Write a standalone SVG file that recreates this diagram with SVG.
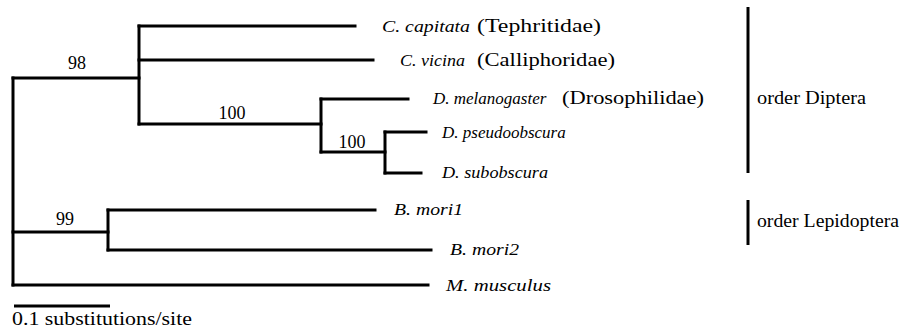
<svg xmlns="http://www.w3.org/2000/svg" width="904" height="333" viewBox="0 0 904 333">
<style>
.br{fill:none;stroke:#000;stroke-width:3;stroke-linecap:square}
.bar{fill:none;stroke:#000;stroke-width:3}
.t{font-family:'Liberation Serif','Times New Roman',serif;font-size:18px;fill:#000}
.i{font-style:italic;font-size:17px}
</style>
<rect width="904" height="333" fill="#fff"/>
<g id="connectors">
<path class="br" d="M13,78 V285"/>
<path class="br" d="M13,78 H139"/>
<path class="br" d="M139,26 V124"/>
<path class="br" d="M139,26 H355"/>
<path class="br" d="M139,60 H373"/>
<path class="br" d="M139,124 H321"/>
<path class="br" d="M321,99 V152"/>
<path class="br" d="M321,99 H408"/>
<path class="br" d="M321,152 H385"/>
<path class="br" d="M385,132 V173"/>
<path class="br" d="M385,132 H426"/>
<path class="br" d="M385,173 H421"/>
<path class="br" d="M13,232 H108"/>
<path class="br" d="M108,210 V250"/>
<path class="br" d="M108,210 H375"/>
<path class="br" d="M108,250 H431"/>
<path class="br" d="M13,285 H428"/>
</g>
<g id="support">
<text class="t" x="77" y="69" text-anchor="middle">98</text>
<text class="t" x="232" y="119" text-anchor="middle">100</text>
<text class="t" x="352" y="148" text-anchor="middle">100</text>
<text class="t" x="65" y="225" text-anchor="middle">99</text>
</g>
<g id="taxon-ccapitata"><text class="t i" x="382" y="32" textLength="88" lengthAdjust="spacingAndGlyphs">C. capitata</text><text class="t" x="477" y="32" textLength="124" lengthAdjust="spacingAndGlyphs">(Tephritidae)</text></g>
<g id="taxon-cvicina"><text class="t i" x="400" y="66" textLength="65" lengthAdjust="spacingAndGlyphs">C. vicina</text><text class="t" x="477" y="66" textLength="138" lengthAdjust="spacingAndGlyphs">(Calliphoridae)</text></g>
<g id="taxon-dmelanogaster"><text class="t i" x="433" y="104">D. melanogaster</text><text class="t" x="562" y="104" textLength="142" lengthAdjust="spacingAndGlyphs">(Drosophilidae)</text></g>
<g id="taxon-dpseudoobscura"><text class="t i" x="442" y="138">D. pseudoobscura</text></g>
<g id="taxon-dsubobscura"><text class="t i" x="442" y="178" textLength="106" lengthAdjust="spacingAndGlyphs">D. subobscura</text></g>
<g id="taxon-bmori1"><text class="t i" x="394" y="215" textLength="69" lengthAdjust="spacingAndGlyphs">B. mori1</text></g>
<g id="taxon-bmori2"><text class="t i" x="450" y="255" textLength="69" lengthAdjust="spacingAndGlyphs">B. mori2</text></g>
<g id="taxon-mmusculus"><text class="t i" x="446" y="291" textLength="105" lengthAdjust="spacingAndGlyphs">M. musculus</text></g>
<g id="order-diptera">
<path class="bar" d="M748,7 V173"/>
<text class="t" x="757" y="104" textLength="109" lengthAdjust="spacingAndGlyphs">order Diptera</text>
</g>
<g id="order-lepidoptera">
<path class="bar" d="M748,200 V245"/>
<text class="t" x="757" y="227" textLength="142" lengthAdjust="spacingAndGlyphs">order Lepidoptera</text>
</g>
<g id="scale-bar">
<path class="bar" d="M14,306 H110"/>
<text class="t" x="12" y="325" textLength="180" lengthAdjust="spacingAndGlyphs">0.1 substitutions/site</text>
</g>
</svg>
